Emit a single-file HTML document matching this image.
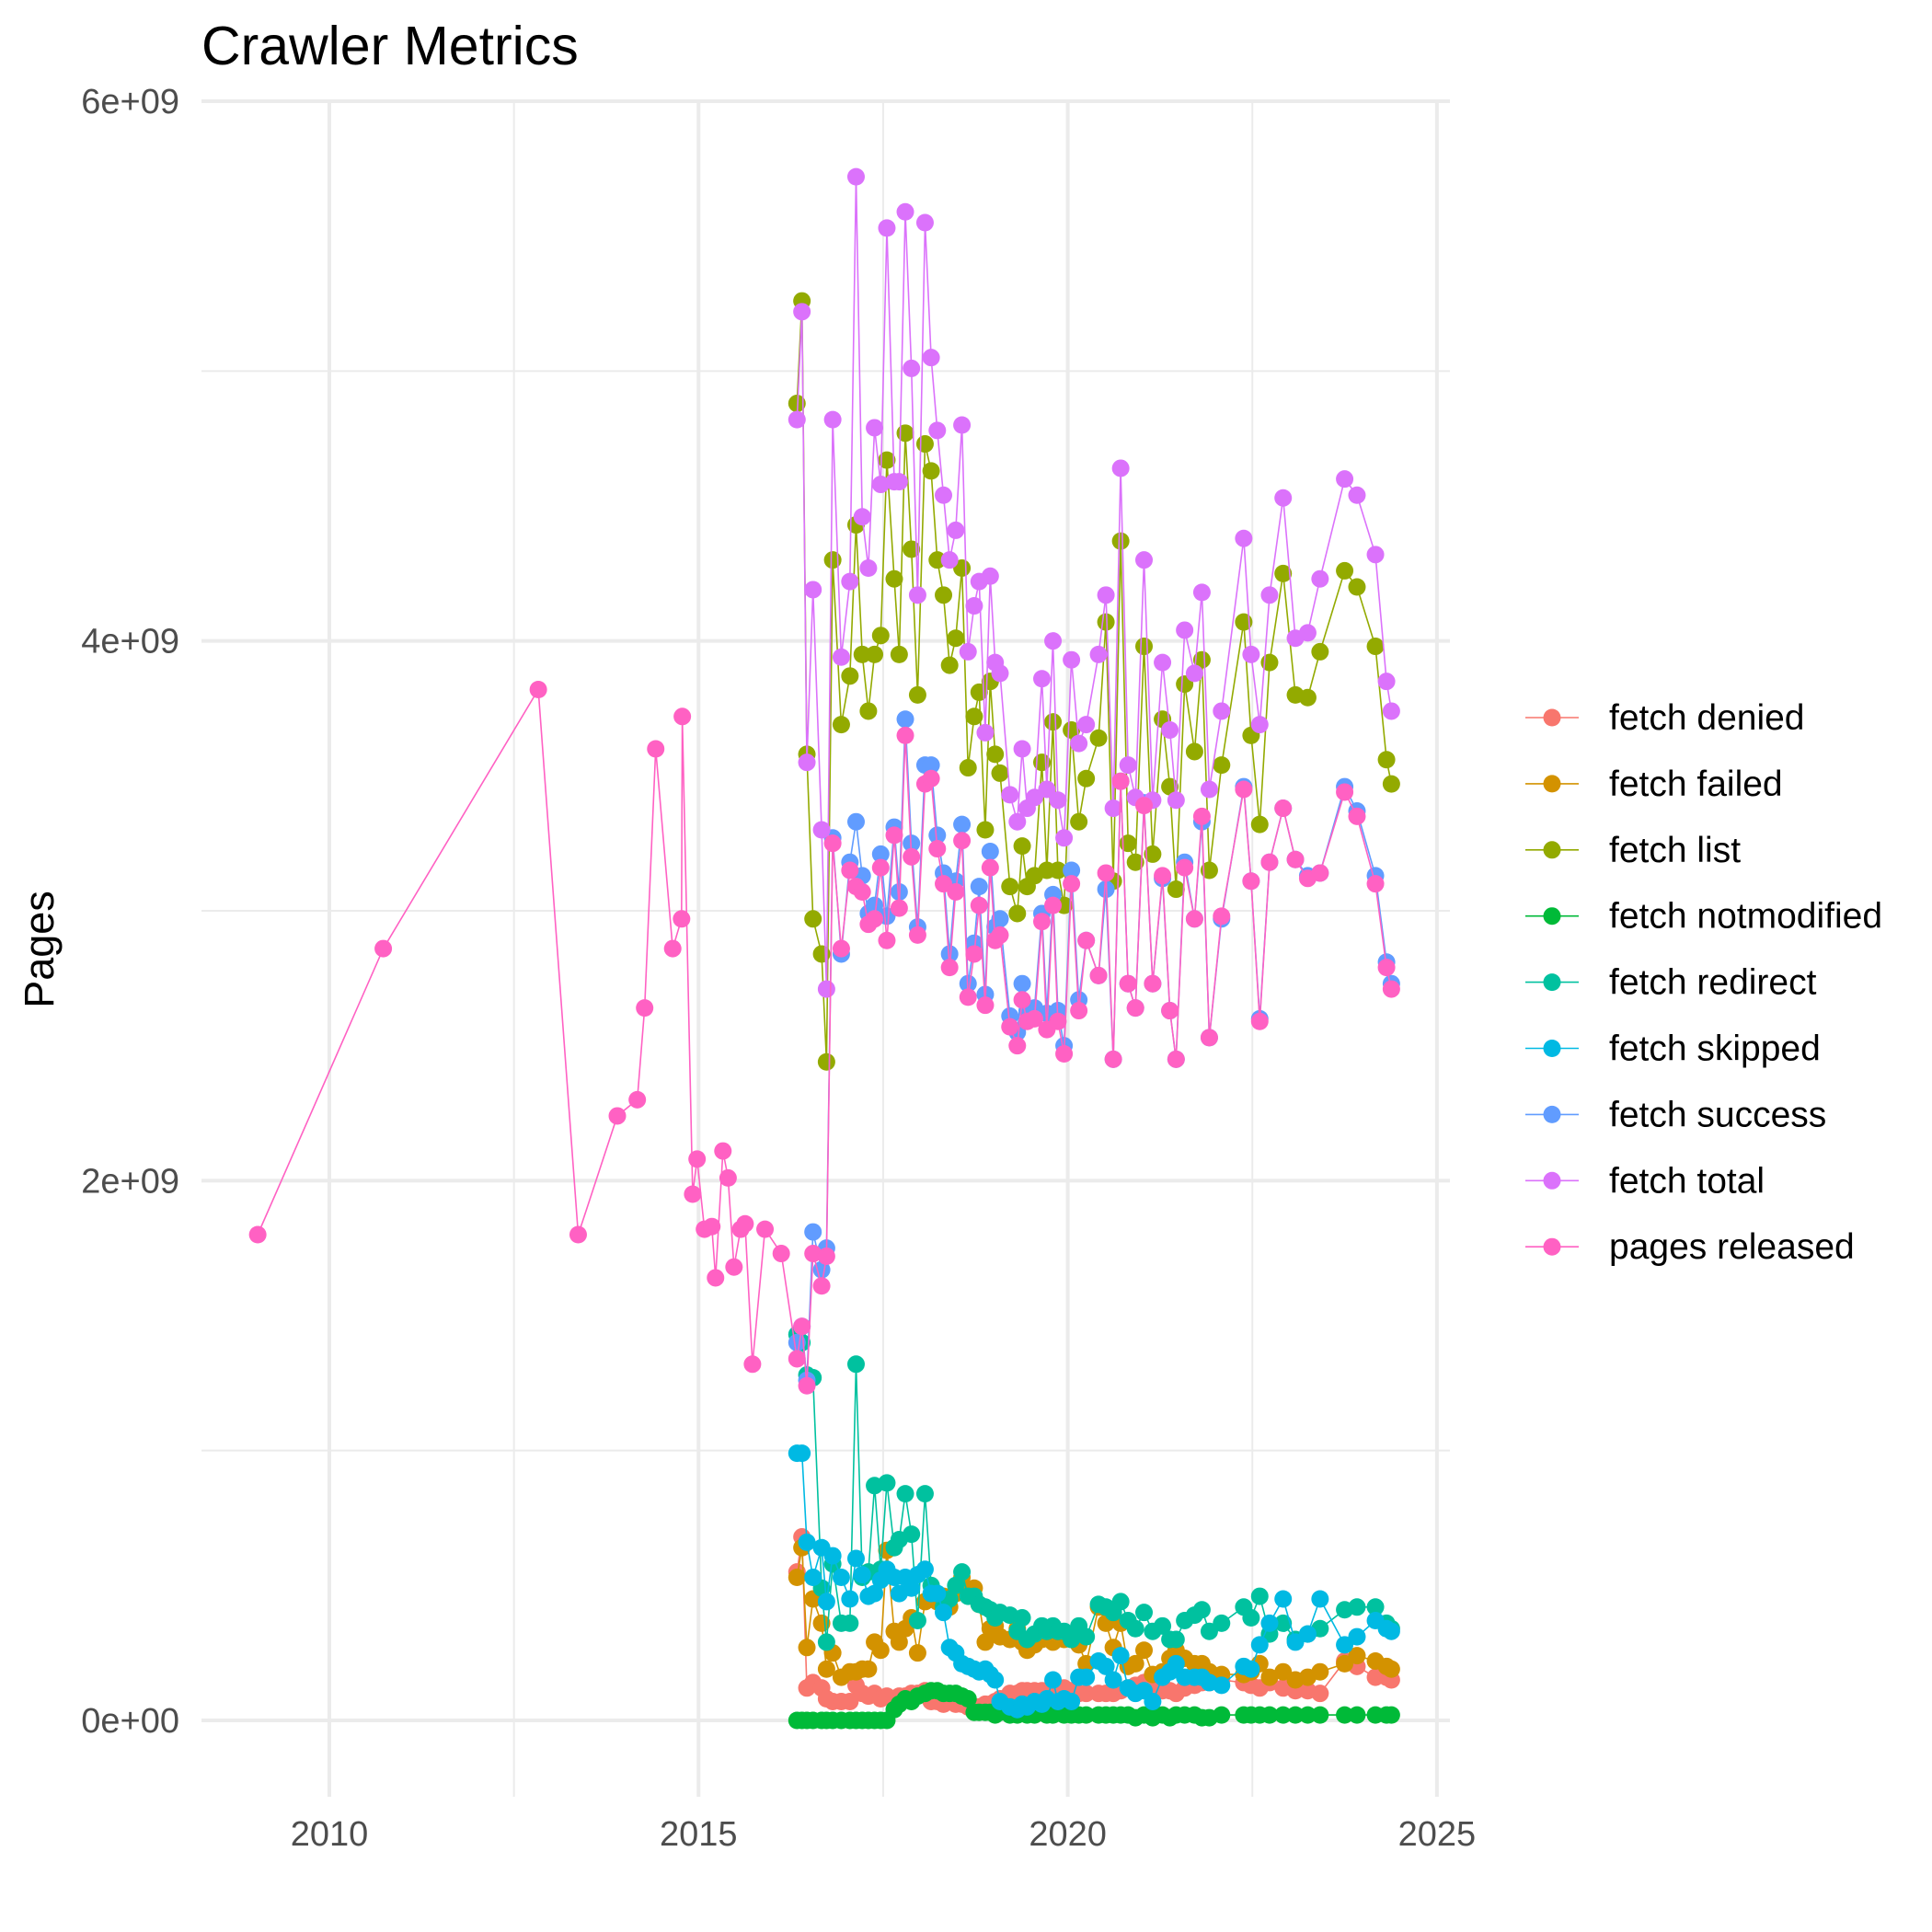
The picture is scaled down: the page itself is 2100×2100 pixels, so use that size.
<!DOCTYPE html>
<html><head><meta charset="utf-8"><style>
html,body{margin:0;padding:0;background:#fff;}
svg{display:block;font-family:"Liberation Sans",sans-serif;}
</style></head><body>
<svg id="chart" width="2100" height="2100" viewBox="0 0 2100 2100" xmlns="http://www.w3.org/2000/svg">
<rect x="0" y="0" width="2100" height="2100" fill="#fff"/>
<g id="grid"></g>
<g id="series"></g>
<g id="axes"></g>
<text x="219" y="70" font-size="59" fill="#000">Crawler Metrics</text>
<text transform="translate(58,1032) rotate(-90)" text-anchor="middle" font-size="45" fill="#000">Pages</text>
<g id="legend"></g>
</svg>
<script>
const seriesNames = ["fetch denied","fetch failed","fetch list","fetch notmodified","fetch redirect","fetch skipped","fetch success","fetch total","pages released"];
const seriesColors = ["#F8766D","#D39200","#93AA00","#00BA38","#00C19F","#00B9E3","#619CFF","#DB72FB","#FF61C3"];
const xTicks = [2010,2015,2020,2025];
const xMinor = [2012.5,2017.5,2022.5];
const yTicks = [0,2,4,6];
const yTickLabels = ["0e+00","2e+09","4e+09","6e+09"];
const yMinor = [1,3,5];

const dates = [2016.333,2016.4,2016.467,2016.55,2016.667,2016.733,2016.817,2016.933,2017.05,2017.133,2017.217,2017.3,2017.383,2017.467,2017.55,2017.65,2017.717,2017.8,2017.883,2017.967,2018.067,2018.15,2018.233,2018.317,2018.4,2018.483,2018.567,2018.65,2018.733,2018.8,2018.883,2018.95,2019.017,2019.083,2019.217,2019.317,2019.383,2019.45,2019.55,2019.65,2019.717,2019.8,2019.867,2019.95,2020.05,2020.15,2020.25,2020.417,2020.517,2020.617,2020.717,2020.817,2020.917,2021.033,2021.15,2021.283,2021.383,2021.467,2021.583,2021.717,2021.817,2021.917,2022.083,2022.383,2022.483,2022.6,2022.733,2022.917,2023.083,2023.25,2023.417,2023.75,2023.917,2024.167,2024.317,2024.383];

const fetchDenied = [0.55,0.68,0.12,0.14,0.12,0.08,0.07,0.07,0.07,0.13,0.10,0.09,0.10,0.08,0.09,0.08,0.09,0.09,0.10,0.10,0.11,0.07,0.07,0.06,0.07,0.06,0.06,0.05,0.05,0.05,0.06,0.06,0.07,0.08,0.10,0.10,0.11,0.11,0.11,0.11,0.11,0.12,0.12,0.12,0.11,0.10,0.10,0.10,0.10,0.10,0.11,0.12,0.13,0.14,0.12,0.11,0.11,0.10,0.12,0.13,0.14,0.14,0.15,0.14,0.13,0.12,0.14,0.12,0.11,0.11,0.10,0.22,0.20,0.16,0.16,0.15];
const fetchFailed = [0.53,0.64,0.27,0.45,0.36,0.19,0.25,0.16,0.18,0.18,0.19,0.19,0.29,0.26,0.63,0.33,0.29,0.34,0.38,0.25,0.44,0.45,0.44,0.46,0.42,0.47,0.53,0.48,0.49,0.43,0.29,0.34,0.35,0.31,0.30,0.34,0.29,0.26,0.28,0.30,0.31,0.29,0.31,0.30,0.30,0.28,0.21,0.42,0.36,0.27,0.36,0.20,0.21,0.26,0.17,0.18,0.23,0.26,0.23,0.21,0.21,0.18,0.17,0.17,0.18,0.21,0.16,0.18,0.15,0.16,0.18,0.21,0.24,0.22,0.20,0.19];
const fetchList = [4.88,5.26,3.58,2.97,2.84,2.44,4.30,3.69,3.87,4.43,3.95,3.74,3.95,4.02,4.67,4.23,3.95,4.77,4.34,3.80,4.73,4.63,4.30,4.17,3.91,4.01,4.27,3.53,3.72,3.81,3.30,3.85,3.58,3.51,3.09,2.99,3.24,3.09,3.13,3.55,3.15,3.70,3.15,3.02,3.67,3.33,3.49,3.64,4.07,3.11,4.37,3.25,3.18,3.98,3.21,3.71,3.46,3.08,3.84,3.59,3.93,3.15,3.54,4.07,3.65,3.32,3.92,4.25,3.80,3.79,3.96,4.26,4.20,3.98,3.56,3.47];
const fetchNotmodified = [0,0,0,0,0,0,0,0,0,0,0,0,0,0,0,0.04,0.06,0.08,0.07,0.09,0.10,0.11,0.11,0.10,0.10,0.10,0.09,0.08,0.03,0.03,0.03,0.03,0.02,0.03,0.02,0.02,0.03,0.02,0.02,0.03,0.02,0.02,0.03,0.02,0.02,0.02,0.02,0.02,0.02,0.02,0.02,0.02,0.01,0.02,0.01,0.02,0.01,0.02,0.02,0.02,0.01,0.01,0.02,0.02,0.02,0.02,0.02,0.02,0.02,0.02,0.02,0.02,0.02,0.02,0.02,0.02];
const fetchRedirect = [1.43,1.40,1.28,1.27,0.49,0.29,0.58,0.36,0.36,1.32,0.53,0.55,0.87,0.56,0.88,0.64,0.67,0.84,0.69,0.37,0.84,0.50,0.47,0.42,0.45,0.50,0.55,0.46,0.46,0.43,0.42,0.41,0.38,0.40,0.39,0.33,0.38,0.30,0.32,0.35,0.33,0.35,0.33,0.33,0.30,0.35,0.31,0.43,0.42,0.40,0.44,0.37,0.34,0.40,0.33,0.35,0.30,0.30,0.37,0.39,0.41,0.33,0.36,0.42,0.38,0.46,0.32,0.36,0.30,0.32,0.34,0.41,0.42,0.42,0.36,0.34];
const fetchSkipped = [0.99,0.99,0.66,0.53,0.64,0.44,0.61,0.53,0.45,0.60,0.54,0.46,0.47,0.52,0.56,0.53,0.47,0.53,0.49,0.54,0.56,0.47,0.47,0.40,0.27,0.25,0.21,0.20,0.19,0.18,0.19,0.17,0.15,0.07,0.05,0.04,0.06,0.05,0.07,0.06,0.08,0.15,0.07,0.08,0.07,0.16,0.16,0.22,0.20,0.15,0.24,0.12,0.10,0.11,0.07,0.16,0.18,0.21,0.16,0.16,0.16,0.14,0.13,0.20,0.19,0.28,0.36,0.45,0.29,0.32,0.45,0.28,0.31,0.37,0.34,0.33];
const fetchSuccess = [1.40,1.46,1.26,1.81,1.67,1.75,3.27,2.84,3.18,3.33,3.13,2.99,3.02,3.21,2.98,3.31,3.07,3.71,3.25,2.94,3.54,3.54,3.28,3.14,2.84,3.11,3.32,2.73,2.88,3.09,2.69,3.22,2.94,2.97,2.61,2.55,2.73,2.63,2.64,2.99,2.62,3.06,2.63,2.50,3.15,2.67,2.89,2.76,3.08,2.45,3.48,2.73,2.64,3.40,2.73,3.12,2.63,2.45,3.18,2.97,3.33,2.53,2.97,3.46,3.11,2.60,3.18,3.38,3.19,3.13,3.14,3.46,3.37,3.13,2.81,2.73];
const fetchTotal = [4.82,5.22,3.55,4.19,3.30,2.71,4.82,3.94,4.22,5.72,4.46,4.27,4.79,4.58,5.53,4.59,4.59,5.59,5.01,4.17,5.55,5.05,4.78,4.54,4.30,4.41,4.80,3.96,4.13,4.22,3.66,4.24,3.92,3.88,3.43,3.33,3.60,3.38,3.42,3.86,3.45,4.00,3.41,3.27,3.93,3.62,3.69,3.95,4.17,3.38,4.64,3.54,3.42,4.30,3.41,3.92,3.67,3.41,4.04,3.88,4.18,3.45,3.74,4.38,3.95,3.69,4.17,4.53,4.01,4.03,4.23,4.60,4.54,4.32,3.85,3.74];
const pagesEarlyDates = [2009.03,2010.73,2012.83,2013.37,2013.9,2014.17,2014.27,2014.42,2014.65,2014.77,2014.78,2014.92,2014.98,2015.08,2015.18,2015.23,2015.33,2015.4,2015.48,2015.57,2015.63,2015.73,2015.9,2016.12];
const pagesEarly = [1.80,2.86,3.82,1.80,2.24,2.30,2.64,3.60,2.86,2.97,3.72,1.95,2.08,1.82,1.83,1.64,2.11,2.01,1.68,1.82,1.84,1.32,1.82,1.73];
const pagesLate = [1.34,1.46,1.24,1.73,1.61,1.72,3.25,2.86,3.15,3.09,3.07,2.95,2.97,3.16,2.89,3.28,3.01,3.65,3.20,2.91,3.47,3.49,3.23,3.10,2.79,3.07,3.26,2.68,2.84,3.02,2.65,3.16,2.89,2.91,2.57,2.50,2.67,2.59,2.60,2.96,2.56,3.02,2.59,2.47,3.10,2.63,2.89,2.76,3.14,2.45,3.48,2.73,2.64,3.39,2.73,3.13,2.63,2.45,3.16,2.97,3.35,2.53,2.98,3.45,3.11,2.59,3.18,3.38,3.19,3.12,3.14,3.44,3.35,3.10,2.79,2.71];

const NS="http://www.w3.org/2000/svg";
const P={l:219,r:1576,t:108,b:1953};
function xS(yr){return 358+(yr-2010)*80.26;}
function yS(v){return 1870-v*293.33;}
function mk(tag,attrs,parent){const e=document.createElementNS(NS,tag);for(const k in attrs)e.setAttribute(k,attrs[k]);parent.appendChild(e);return e;}

const grid=document.getElementById('grid');
xMinor.forEach(v=>{const l=mk('line',{x1:xS(v),x2:xS(v),y1:P.t,y2:P.b,stroke:'#ebebeb','stroke-width':2},grid);

});
yMinor.forEach(v=>{const l=mk('line',{x1:P.l,x2:P.r,y1:yS(v),y2:yS(v),stroke:'#ebebeb','stroke-width':2},grid);

});
xTicks.forEach(v=>{const l=mk('line',{x1:xS(v),x2:xS(v),y1:P.t,y2:P.b,stroke:'#ebebeb','stroke-width':4},grid);

});
yTicks.forEach(v=>{const l=mk('line',{x1:P.l,x2:P.r,y1:yS(v),y2:yS(v),stroke:'#ebebeb','stroke-width':4},grid);

});

const axes=document.getElementById('axes');
xTicks.forEach(v=>{const t=mk('text',{x:xS(v),y:2006,'text-anchor':'middle','font-size':38,fill:'#4d4d4d'},axes);t.textContent=String(v);

});
yTicks.forEach((v,i)=>{const t=mk('text',{x:195,y:yS(v)+13,'text-anchor':'end','font-size':38,fill:'#4d4d4d'},axes);t.textContent=yTickLabels[i];

});

const seriesData=[fetchDenied,fetchFailed,fetchList,fetchNotmodified,fetchRedirect,fetchSkipped,fetchSuccess,fetchTotal,null];
const layer=document.getElementById('series');
seriesData.forEach((vals,si)=>{
  let xs,vs;
  if(vals===null){xs=pagesEarlyDates.concat(dates);vs=pagesEarly.concat(pagesLate);}
  else{xs=dates;vs=vals;}
  const g=mk('g',{},layer);
  
  
  const pts=xs.map((x,i)=>xS(x).toFixed(1)+','+yS(vs[i]).toFixed(1)).join(' ');
  const pl=mk('polyline',{points:pts,fill:'none',stroke:seriesColors[si],'stroke-width':1.6},g);
  
  
  xs.forEach((x,i)=>{const c=mk('circle',{cx:xS(x),cy:yS(vs[i]),r:9.5,fill:seriesColors[si]},g);
  
  });
});

const leg=document.getElementById('legend');
seriesNames.forEach((n,i)=>{
  const y=780+71.9*i;
  const g=mk('g',{},leg);
  
  
  mk('line',{x1:1658,x2:1716,y1:y,y2:y,stroke:seriesColors[i],'stroke-width':1.6},g);
  mk('circle',{cx:1687,cy:y,r:9.5,fill:seriesColors[i]},g);
  const t=mk('text',{x:1749,y:y+13,'font-size':39,fill:'#000'},g);t.textContent=n;
});
</script>
</body></html>
